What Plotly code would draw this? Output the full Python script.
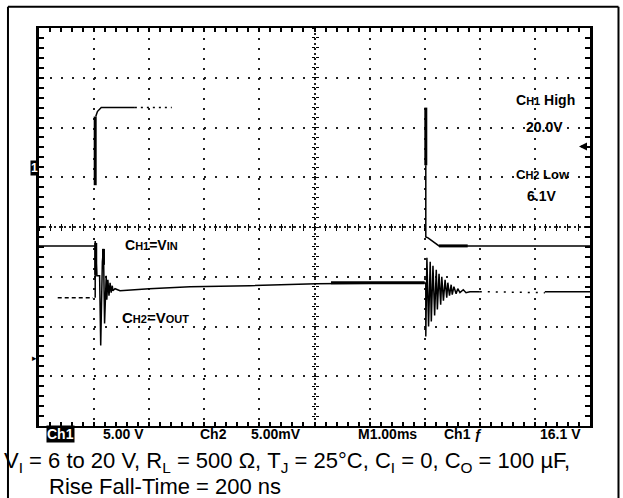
import plotly.graph_objects as go

# ---------------- data ----------------
# time in ms (1.00 ms/div), CH1 in volts (5.00 V/div), CH2 in mV (5.00 mV/div, AC)
ch1_t = [0.0, 1.02, None, 1.03, 1.06, 1.13, 1.74, None, 7.02, 7.02, 7.06, 7.24, 7.26, 10.0]
ch1_v = [6.1, 6.1, None, 19.1, 19.6, 20.0, 20.0, None, 14.2, 7.0, 6.9, 6.2, 6.1, 6.1]
ch1_edge_t = [1.02, 1.02, None, 7.02, 7.02, None, 7.26, 7.78]
ch1_edge_v = [12.2, 19.1, None, 20.0, 14.2, None, 6.1, 6.1]
ch1_sparse_t = [1.74, 2.41]
ch1_sparse_v = [20.0, 20.0]

ch2_pre_t = [0.34, 0.98]
ch2_pre_v = [-7.1, -7.1]
ch2_t = [1.02, 1.02, 1.05, 1.10, 1.12, 1.15, 1.17, 1.19, 1.22, 1.23, 1.25, 1.27,
         1.29, 1.31, 1.33, 1.34, 1.38, 1.47, 2.0, 2.74, 3.83, 5.03, 7.02,
         7.02, 7.04, 7.07, 7.10, 7.12, 7.15, 7.18, 7.21, 7.23, 7.26, 7.29, 7.31,
         7.34, 7.37, 7.40, 7.42, 7.45, 7.48, 7.50, 7.53, 7.57, 7.60, 7.64, 7.70,
         7.75, 7.82, 8.0, None, 9.18, 10.0]
ch2_v = [-7.1, -1.4, -4.9, -4.9, -11.9, -3.5, -2.2, -9.7, -4.9, -7.3, -5.3, -6.9,
         -5.6, -6.6, -5.9, -6.4, -6.2, -6.4, -6.2, -6.0, -5.9, -5.7, -5.6,
         -11.0, -3.1, -10.0, -3.5, -9.5, -3.9, -8.9, -4.3, -8.3, -4.7, -7.8, -5.0,
         -7.4, -5.3, -7.1, -5.6, -6.9, -5.8, -6.8, -6.0, -6.7, -6.2, -6.6, -6.3,
         -6.6, -6.5, -6.5, None, -6.5, -6.5]
ch2_sparse_t = [8.0, 9.18]
ch2_sparse_v = [-6.5, -6.6]
ch2_bar_t = [1.03, 1.03, None, 1.17, 1.17, None, 5.3, 7.0]
ch2_bar_v = [-1.6, -4.8, None, -2.2, -3.8, None, -5.6, -5.6]

trigger_level_v = 16.1
ch1_marker_v = 13.9
ch2_marker_mv = -13.2
ch1_high_label = "20.0V"
ch1_low_label = "6.1V"
readout_labels = ["Ch1", "5.00 V", "Ch2", "5.00mV", "M1.00ms", "Ch1 \u0192", "16.1 V"]
readout_x = [0.039, 0.153, 0.3167, 0.431, 0.6325, 0.7695, 0.9465]

T_RANGE = [0, 10]
V_RANGE = [-12, 28]
MV_RANGE = [-20, 20]

FONT = "Liberation Sans"
BLK = "black"

fig = go.Figure()

def line_trace(x, y, width, dash="solid", yaxis="y"):
    return go.Scatter(x=x, y=y, mode="lines", yaxis=yaxis, hoverinfo="skip",
                      line=dict(color=BLK, width=width, dash=dash),
                      showlegend=False, connectgaps=False)

fig.add_trace(line_trace(ch1_t, ch1_v, 1.5))
fig.add_trace(line_trace(ch1_edge_t, ch1_edge_v, 3))
fig.add_trace(line_trace(ch1_sparse_t, ch1_sparse_v, 1.5, dash="2px,4px"))
fig.add_trace(line_trace(ch2_pre_t, ch2_pre_v, 1.5, dash="4px,3px", yaxis="y2"))
fig.add_trace(line_trace(ch2_t, ch2_v, 1.5, yaxis="y2"))
fig.add_trace(line_trace(ch2_sparse_t, ch2_sparse_v, 1.5, dash="2px,6px", yaxis="y2"))
fig.add_trace(line_trace(ch2_bar_t, ch2_bar_v, 3, yaxis="y2"))

# empty traces so the center-cross axes get drawn
for xa, ya in [("x3", "y"), ("x4", "y"), ("x", "y3"), ("x", "y4"), ("x5", "y5")]:
    fig.add_trace(go.Scatter(x=[None], y=[None], xaxis=xa, yaxis=ya, mode="lines",
                             showlegend=False, hoverinfo="skip"))

common = dict(showticklabels=False, zeroline=False, fixedrange=True)

fig.update_layout(
    width=623, height=498,
    margin=dict(l=39, r=33, t=28, b=72, autoexpand=False),
    paper_bgcolor="white", plot_bgcolor="white",
    showlegend=False,
    xaxis=dict(range=T_RANGE, tick0=0, dtick=1, showgrid=True, gridcolor="#222",
               gridwidth=1.5, griddash="2px,8px", showline=True, linecolor=BLK,
               linewidth=2, mirror="ticks", ticks="inside", ticklen=4,
               tickcolor=BLK, tickwidth=1.5,
               minor=dict(dtick=0.2, tick0=0, ticks="inside", ticklen=4,
                          tickcolor=BLK, tickwidth=1.5, showgrid=False),
               **common),
    yaxis=dict(range=V_RANGE, tick0=-12, dtick=5, showgrid=True, gridcolor="#222",
               gridwidth=1.5, griddash="2px,9px", showline=True, linecolor=BLK,
               linewidth=2.5, mirror="ticks", ticks="inside", ticklen=5,
               tickcolor=BLK, tickwidth=1.5,
               minor=dict(dtick=1, tick0=-12, ticks="inside", ticklen=5,
                          tickcolor=BLK, tickwidth=1.5, showgrid=False),
               **common),
    yaxis2=dict(range=MV_RANGE, overlaying="y", visible=False, fixedrange=True),
    # center cross ticks
    xaxis3=dict(range=T_RANGE, overlaying="x", anchor="free", position=0.5,
                tickmode="linear", tick0=0, dtick=0.2, ticks="inside", ticklen=3,
                tickcolor=BLK, tickwidth=1, showgrid=False, showline=False, **common),
    xaxis4=dict(range=T_RANGE, overlaying="x", anchor="free", position=0.5,
                tickmode="linear", tick0=0, dtick=0.2, ticks="outside", ticklen=3,
                tickcolor=BLK, tickwidth=1, showgrid=False, showline=False, **common),
    yaxis3=dict(range=V_RANGE, overlaying="y", anchor="free", position=0.5,
                tickmode="linear", tick0=-12, dtick=1, ticks="inside", ticklen=3,
                tickcolor=BLK, tickwidth=1, showgrid=False, showline=False, **common),
    yaxis4=dict(range=V_RANGE, overlaying="y", anchor="free", position=0.5,
                tickmode="linear", tick0=-12, dtick=1, ticks="outside", ticklen=3,
                tickcolor=BLK, tickwidth=1, showgrid=False, showline=False, **common),
    # denser center lines
    xaxis5=dict(range=T_RANGE, overlaying="x", tickvals=[5], showgrid=True,
                gridcolor="#222", gridwidth=1.5, griddash="2px,3px", ticks="",
                showline=False, **common),
    yaxis5=dict(range=V_RANGE, overlaying="y", tickvals=[8], showgrid=True,
                gridcolor="#222", gridwidth=1.5, griddash="2px,3px", ticks="",
                showline=False, **common),
)

ann = []
def txt(text, x, y, xref="x", yref="y", size=12, xanchor="center", yanchor="middle",
        color=BLK, bg=None, family=FONT):
    d = dict(text=text, x=x, y=y, xref=xref, yref=yref, showarrow=False,
             xanchor=xanchor, yanchor=yanchor,
             font=dict(family=family, size=size, color=color))
    if bg:
        d["bgcolor"] = bg
        d["borderpad"] = 0
    ann.append(d)

sm = "<span style='font-size:11px'>"
txt(f"<b>C{sm}H1</span>=V{sm}IN</span></b>", 1.52, 6.2, xanchor="left", size=14)
txt(f"<b>C{sm}H2</span>=V{sm}OUT</span></b>", 1.47, -1.05, xanchor="left", size=15)
txt(f"<b>C{sm}H1</span> High</b>", 9.19, 20.8, size=14)
txt(f"<b>{ch1_high_label}</b>", 9.17, 18.05, size=14)
txt(f"<b>C{sm}H2</span> Low</b>", 9.15, 13.3, size=13)
txt(f"<b>{ch1_low_label}</b>", 9.12, 11.1, size=14)

for i, (lab, xp) in enumerate(zip(readout_labels, readout_x)):
    if i == 0:
        txt(f"<b>{lab}</b>", xp, -0.021, xref="paper", yref="paper", size=14,
            color="white", bg=BLK)
    else:
        txt(f"<b>{lab}</b>", xp, -0.021, xref="paper", yref="paper", size=14)

# caption lines
txt("V<sub>I</sub> = 6 to 20 V, R<sub>L</sub> = 500 \u03a9, T<sub>J</sub> = 25\u00b0C, "
    "C<sub>I</sub> = 0, C<sub>O</sub> = 100 \u00b5F,", -0.067, -0.049, xref="paper",
    yref="paper", size=22, xanchor="left", yanchor="top", family="Liberation Sans")
txt("Rise Fall-Time = 200 ns", 0.2287, -0.116, xref="paper", yref="paper", size=22,
    yanchor="top", family="Liberation Sans")

# channel reference markers and trigger arrow
txt("<b>1</b>", 0, ch1_marker_v, xref="paper", yref="y", size=12, color="white",
    bg=BLK, xanchor="right")
txt("\u25b8", 0, ch2_marker_mv, xref="paper", yref="y2", size=9, xanchor="right")
ann.append(dict(x=9.8, y=trigger_level_v, xref="x", yref="y", ax=9.97,
                ay=trigger_level_v, axref="x", ayref="y", showarrow=True,
                arrowhead=2, arrowsize=0.8, arrowwidth=2, arrowcolor=BLK, text=""))

fig.update_layout(annotations=ann)

# outer frame of the figure
fig.add_shape(type="line", xref="paper", yref="paper", x0=-0.0563, x1=-0.0563,
              y0=1.0535, y1=-0.2, line=dict(color=BLK, width=2))
fig.add_shape(type="line", xref="paper", yref="paper", x0=1.0517, x1=1.0517,
              y0=1.0535, y1=-0.2, line=dict(color=BLK, width=2))
fig.add_shape(type="line", xref="paper", yref="paper", x0=-0.0563, x1=1.0517,
              y0=1.0535, y1=1.0535, line=dict(color=BLK, width=2))

fig.write_html("out.html", config={"displayModeBar": False},
               post_script="document.body.style.margin='0px';")
